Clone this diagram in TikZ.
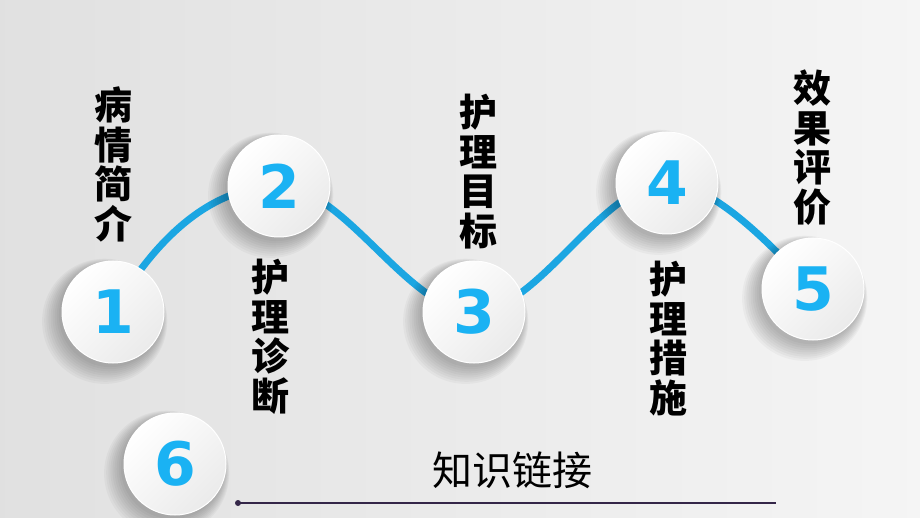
\documentclass[tikz,border=0pt]{standalone}
\usepackage{fontspec}
\newfontfamily\cjk{Noto Sans CJK SC}
\newfontfamily\digitfont{DejaVu Sans}
\usetikzlibrary{calc}
\pgfdeclarelayer{bg}
\pgfdeclarelayer{curve}
\pgfdeclarelayer{shad}
\pgfsetlayers{bg,curve,shad,main}
\definecolor{lineblue}{RGB}{27,166,226}
\definecolor{digitblue}{RGB}{26,178,243}
\definecolor{rulecol}{RGB}{52,38,72}
\tikzset{
  disc/.style={circle, minimum size=102pt, inner sep=0pt, draw=white, line width=1pt,
    top color=white, bottom color=black!8, shading angle=45,
    font=\digitfont\bfseries\fontsize{60}{60}\selectfont, text=digitblue},
  vlabel/.style={align=center, anchor=north, inner sep=0pt,
    font=\cjk\bfseries\fontsize{38}{39.5}\selectfont},
  wave/.style={draw=lineblue, line width=7pt},
  rulestyle/.style={draw=rulecol, line width=1.6pt},
  dotstyle/.style={circle, fill=rulecol, minimum size=6pt, inner sep=0pt},
  shadowdisc/.style={fill=black, opacity=0.03},
}
\begin{document}
\begin{tikzpicture}[x=1pt,y=-1pt]
\useasboundingbox (0,0) rectangle (920,518);
\begin{pgfonlayer}{bg}
  \shade[left color=black!12, middle color=black!3, right color=black!4] (0,0) rectangle (920,518);
\end{pgfonlayer}

% discs
\node[disc] (c1) at (113,312) {1};
\node[disc] (c2) at (279,186) {2};
\node[disc] (c3) at (474,312) {3};
\node[disc] (c4) at (667,183) {4};
\node[disc] (c5) at (813,289) {5};
\node[disc] (c6) at (175,464) {6};

% soft shadows
\begin{pgfonlayer}{shad}
  \foreach \c in {c1,c2,c3,c4,c5,c6}{
    \foreach \i in {1,...,9}{
      \fill[shadowdisc] ([shift={(-2-0.7*\i,3+0.7*\i)}]\c.center) circle ({50pt+\i*1.4pt});
    }
  }
\end{pgfonlayer}

% wave connector
\begin{pgfonlayer}{curve}
  \draw[wave] (c1.center) .. controls +(40,-70) and +(-70,0) .. (c2.center)
              .. controls +(65,0) and +(-65,0) .. (c3.center)
              .. controls +(64,0) and +(-64,0) .. (c4.center)
              .. controls +(50,0) and +(-30,-30) .. (c5.center);
\end{pgfonlayer}

% vertical labels
\node[vlabel] (t1) at (113,87) {病\\情\\简\\介};
\node[vlabel] (t2) at (270,259) {护\\理\\诊\\断};
\node[vlabel] (t3) at (478,94) {护\\理\\目\\标};
\node[vlabel] (t4) at (668,261) {护\\理\\措\\施};
\node[vlabel] (t5) at (812,70) {效\\果\\评\\价};

% bottom title and rule
\node[font=\cjk\fontsize{40}{40}\selectfont, inner sep=0pt] (kl) at (512,470) {知识链接};
\node[dotstyle] (dot) at (238,503) {};
\coordinate (rend) at (776,503);
\draw[rulestyle] (dot.center) -- (rend);
\end{tikzpicture}
\end{document}
